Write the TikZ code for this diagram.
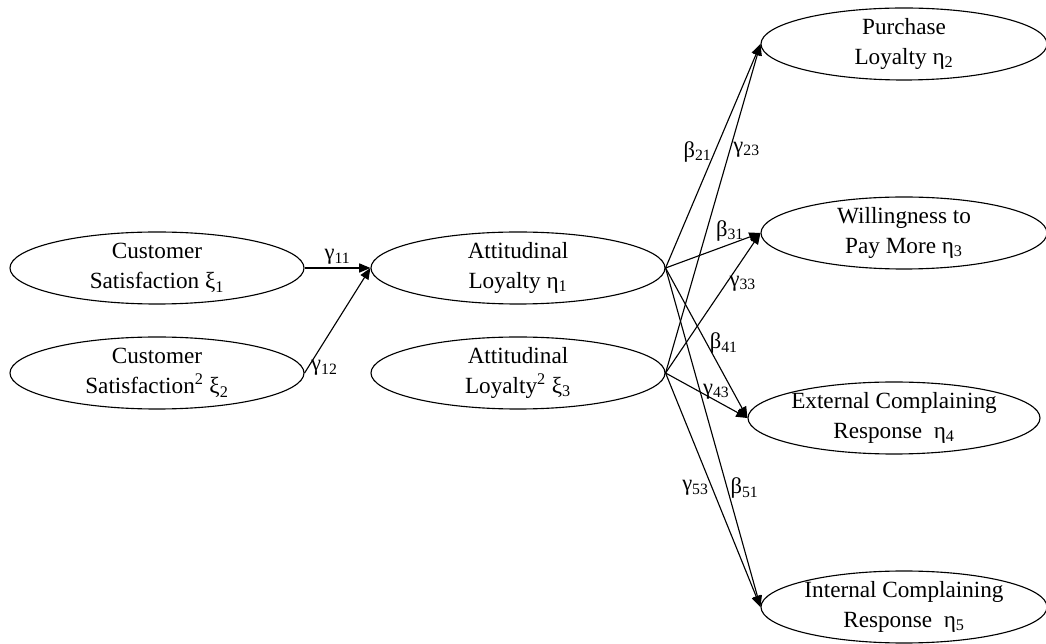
\documentclass[tikz,border=0pt]{standalone}
\usepackage{fontspec}
\setmainfont{Liberation Serif}
\usepackage{tikz}
\usetikzlibrary{arrows.meta,positioning,shapes.geometric}

\begin{document}
\begin{tikzpicture}[
  latent/.style={draw,ellipse,line width=0.8pt,minimum width=7.35cm,minimum height=1.8cm,inner sep=0pt,align=center,font=\fontsize{16.5}{21}\selectfont},
  arr/.style={-{Triangle[length=8pt,width=6.5pt]},line width=0.8pt},
  coef/.style={font=\fontsize{16}{18}\selectfont,inner sep=2pt}
]
\useasboundingbox (0,0) rectangle (26.15,16.075);

% Exogenous
\node[latent] (sat) at (3.925,9.375) {Customer\\Satisfaction ξ\textsubscript{1}};
\node[latent] (satsq) at (3.925,6.75) {Customer\\Satisfaction\textsuperscript{2} ξ\textsubscript{2}};

% Attitudinal loyalty
\node[latent] (att) at (12.95,9.375) {Attitudinal\\Loyalty η\textsubscript{1}};
\node[latent] (attsq) at (12.95,6.75) {Attitudinal\\Loyalty\textsuperscript{2} ξ\textsubscript{3}};

% Outcomes
\node[latent,minimum width=7.15cm] (purch) at (22.6,14.975) {Purchase\\Loyalty η\textsubscript{2}};
\node[latent,minimum width=7.15cm] (wtp) at (22.6,10.25) {Willingness to\\Pay More η\textsubscript{3}};
\node[latent,minimum width=7.3cm] (ext) at (22.35,5.625) {External Complaining\\Response \ η\textsubscript{4}};
\node[latent,minimum width=7.15cm] (int) at (22.6,0.9) {Internal Complaining\\Response \ η\textsubscript{5}};

\draw[arr] (sat.east) -- node[coef,midway,above] {γ\textsubscript{11}} (att.west);
\draw[arr] (satsq.east) -- node[coef,pos=0.05,right] {γ\textsubscript{12}} (att.west);

\draw[arr] (att.east) -- node[coef,pos=0.52,left] {β\textsubscript{21}} (purch.west);
\draw[arr] (attsq.east) -- node[coef,pos=0.68,right] {γ\textsubscript{23}} (purch.west);
\draw[arr] (att.east) -- node[coef,pos=0.68,above] {β\textsubscript{31}} (wtp.west);
\draw[arr] (attsq.east) -- node[coef,pos=0.64,right] {γ\textsubscript{33}} (wtp.west);
\draw[arr] (att.east) -- node[coef,pos=0.5,right] {β\textsubscript{41}} (ext.west);
\draw[arr] (attsq.east) -- node[coef,pos=0.62,above,inner sep=1pt] {γ\textsubscript{43}} (ext.west);
\draw[arr] (att.east) -- node[coef,pos=0.65,right] {β\textsubscript{51}} (int.west);
\draw[arr] (attsq.east) -- node[coef,pos=0.49,left] {γ\textsubscript{53}} (int.west);
\end{tikzpicture}
\end{document}
